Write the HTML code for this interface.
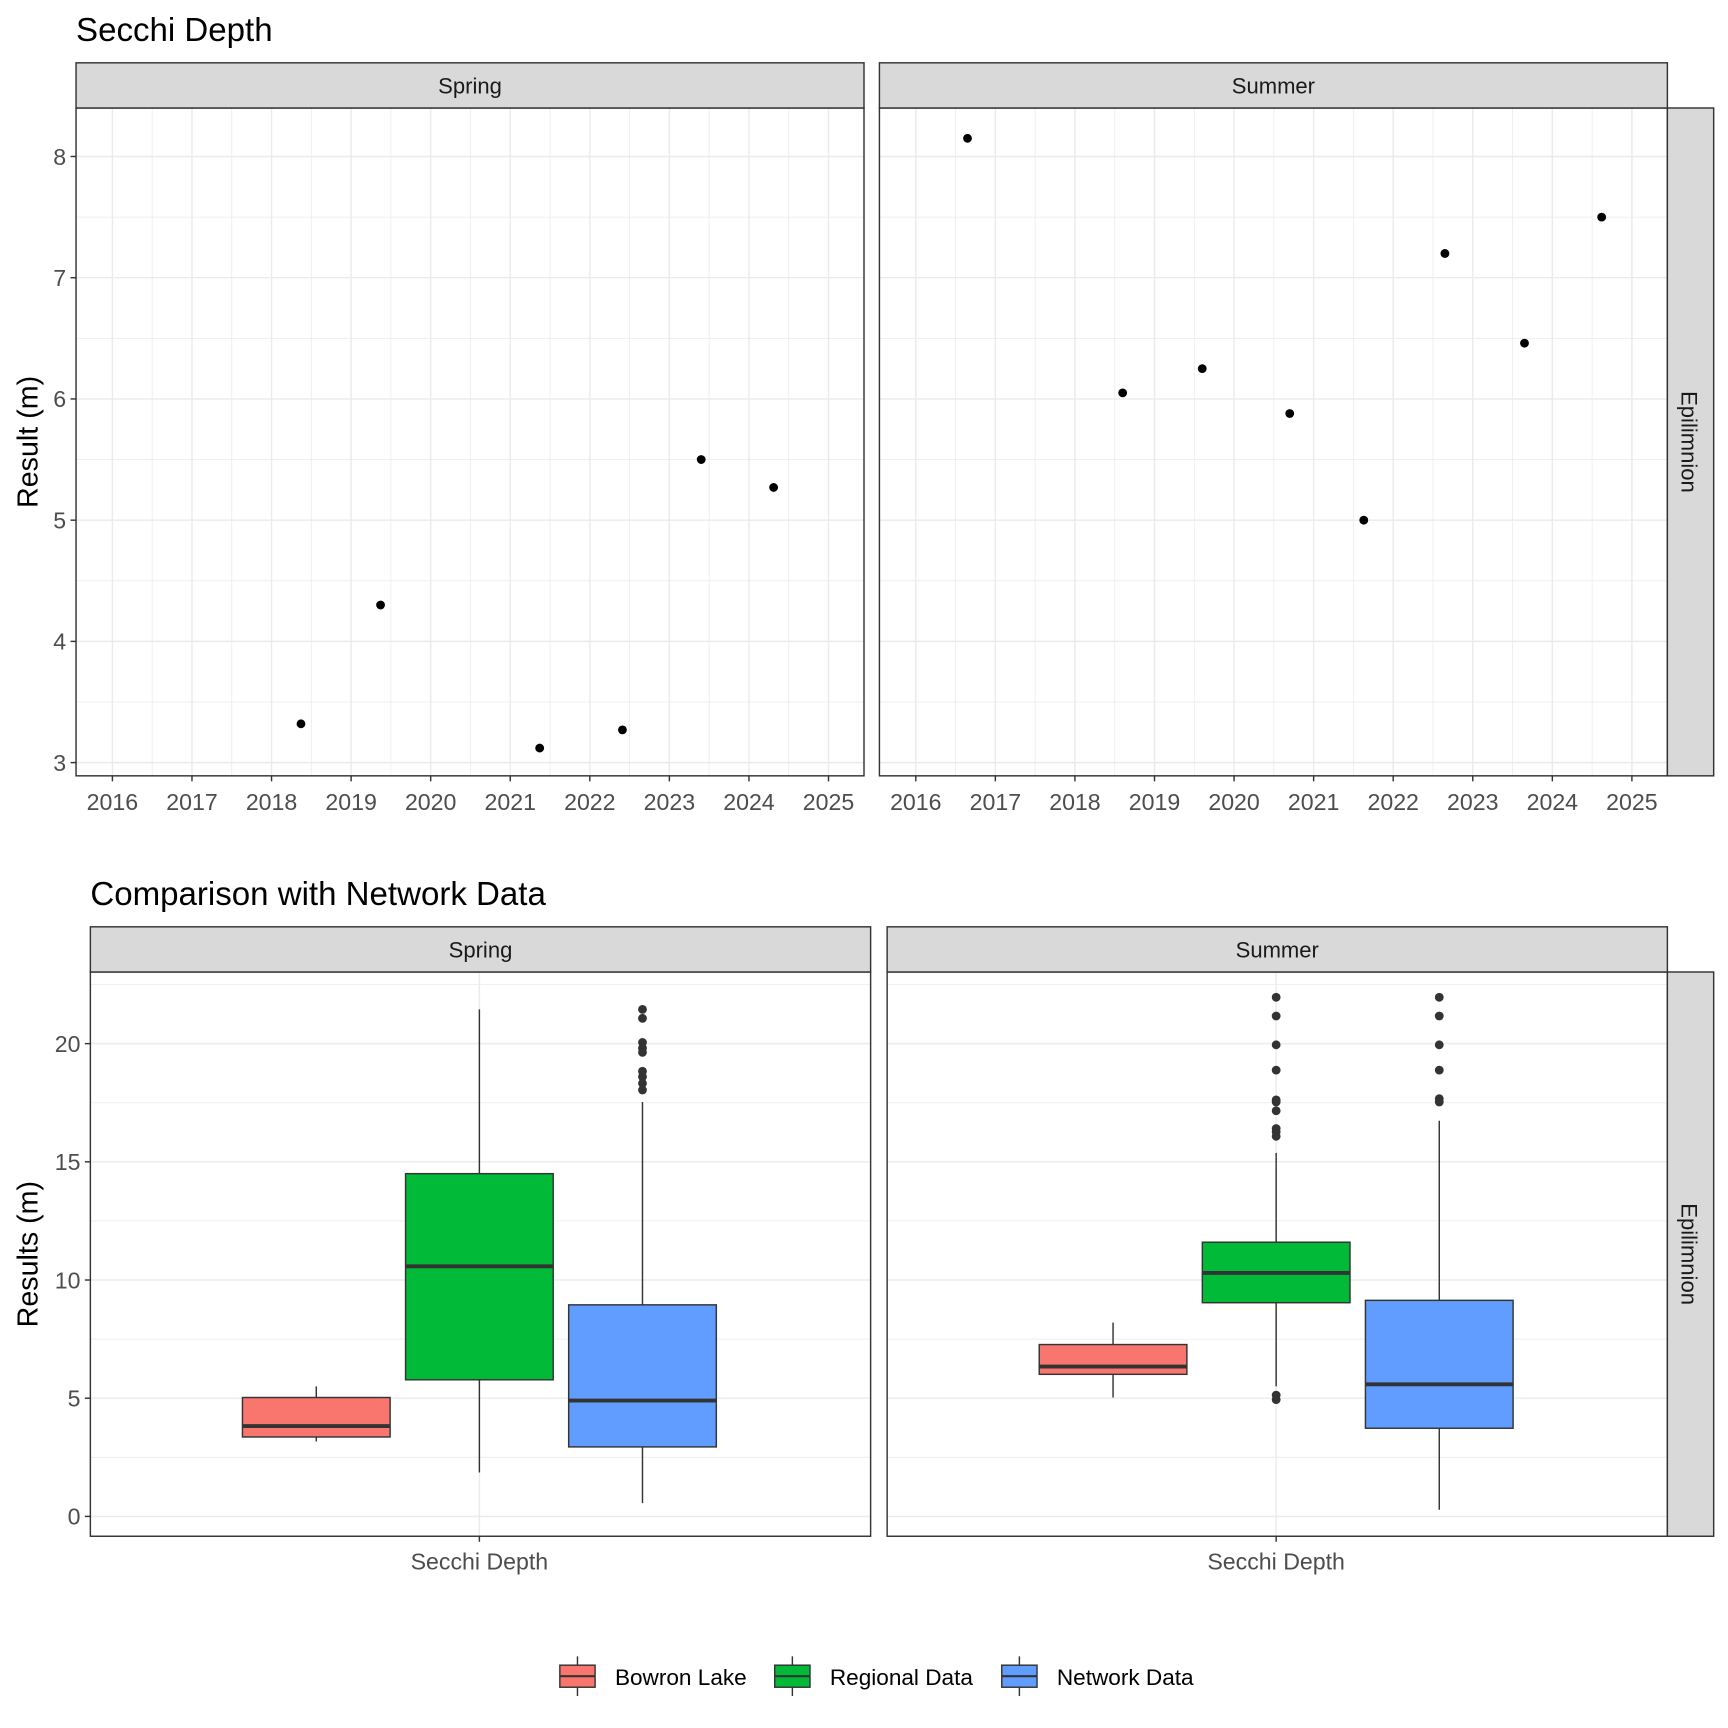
<!DOCTYPE html>
<html><head><meta charset="utf-8"><style>
html,body{margin:0;padding:0;background:#fff}
svg{display:block;font-family:"Liberation Sans",Arial,sans-serif}
</style></head><body>
<svg id="chart" width="1728" height="1728" viewBox="0 0 1568 1568" xmlns="http://www.w3.org/2000/svg"></svg>
<script>
// ---- Top chart data ----
const years = [2016,2017,2018,2019,2020,2021,2022,2023,2024,2025];
const yTicksTop = [3,4,5,6,7,8];
const springDates = [2018.37,2019.37,2021.37,2022.41,2023.40,2024.31];
const springValues = [3.32,4.30,3.12,3.27,5.50,5.27];
const summerDates = [2016.65,2018.60,2019.60,2020.70,2021.63,2022.65,2023.65,2024.62];
const summerValues = [8.15,6.05,6.25,5.88,5.00,7.20,6.46,7.50];
// ---- Bottom chart data ----
const groups = ["Bowron Lake","Regional Data","Network Data"];
const seasons = ["Spring","Summer"];
const yTicksBottom = [0,5,10,15,20];
// [lowWhisker, q1, median, q3, highWhisker]
const springStats = [[3.17,3.36,3.82,5.03,5.5],[1.86,5.78,10.58,14.5,21.45],[0.56,2.94,4.9,8.95,17.53]];
const summerStats = [[5.03,6.01,6.34,7.27,8.2],[5.5,9.04,10.3,11.6,15.38],[0.28,3.73,5.59,9.14,16.74]];
const springOutliers = [[],[],[21.45,21.07,20.05,19.81,19.63,18.83,18.6,18.32,18.04]];
const summerOutliers = [[],[21.96,21.17,19.95,18.88,17.62,17.53,17.16,16.41,16.27,16.08,5.13,4.94],[21.96,21.17,19.95,18.88,17.67,17.53]];
const groupColors = ["#F8766D","#00BA38","#619CFF"];

const NS="http://www.w3.org/2000/svg";
const svg=document.getElementById('chart');
const TICK=21, STRIP=20;
function mk(tag,attrs,parent,name,inter){const e=document.createElementNS(NS,tag);for(const k in attrs)e.setAttribute(k,attrs[k]);(parent||svg).appendChild(e);


return e;}
function txt(s,attrs,name){const e=mk('text',attrs,svg,name);e.textContent=s;return e;}

// Titles
txt("Secchi Depth",{x:69,y:37,'font-size':30,fill:'#000'},'top-title');
txt("Comparison with Network Data",{x:82,y:821,'font-size':30,fill:'#000'},'bottom-title');

// ---- Top panels ----
const topY0=98, topY1=704;
const yTop=v=>142+(8-v)*110;
const topPanels=[{x0:69,x1:784,name:'Spring',d:springDates,v:springValues,x16:102},{x0:798,x1:1513,name:'Summer',d:summerDates,v:summerValues,x16:831}];
topPanels.forEach((p,pi)=>{
  const xs=y=>p.x16+(y-2016)*72.2;
  const g=mk('g',{},svg,'top-panel-'+p.name.toLowerCase());
  mk('rect',{x:p.x0,y:topY0,width:p.x1-p.x0,height:topY1-topY0,fill:'#fff'},g,'panel-background');
  for(let t=2.5;t<=8.5;t+=0.5){const yy=yTop(t);if(yy<topY0||yy>topY1)continue;
    mk('line',{x1:p.x0,x2:p.x1,y1:yy,y2:yy,stroke:'#ebebeb','stroke-width':t%1===0?1.3:0.7},g,'y-gridline');}
  for(let t=2015.5;t<=2025.5;t+=0.5){const xx=xs(t);if(xx<p.x0||xx>p.x1)continue;
    mk('line',{x1:xx,x2:xx,y1:topY0,y2:topY1,stroke:'#ebebeb','stroke-width':t%1===0?1.3:0.7},g,'x-gridline');}
  p.d.forEach((d,i)=>{mk('circle',{cx:xs(d),cy:yTop(p.v[i]),r:4,fill:'#000'},g,'point-'+p.name.toLowerCase());});
  mk('rect',{x:p.x0,y:topY0,width:p.x1-p.x0,height:topY1-topY0,fill:'none',stroke:'#333','stroke-width':1.3},g,'panel-border');
  mk('rect',{x:p.x0,y:57,width:p.x1-p.x0,height:41,fill:'#d9d9d9',stroke:'#333','stroke-width':1.3},g,'strip-'+p.name.toLowerCase());
  txt(p.name,{x:(p.x0+p.x1)/2,y:85,'font-size':STRIP,fill:'#1a1a1a','text-anchor':'middle'},'strip-label');
  years.forEach(yr=>{const xx=xs(yr);
    mk('line',{x1:xx,x2:xx,y1:topY1,y2:topY1+5,stroke:'#333','stroke-width':1.3},g,'x-tick');
    txt(String(yr),{x:xx,y:735,'font-size':TICK,fill:'#4d4d4d','text-anchor':'middle'},'x-tick-label');});
  if(pi===0){yTicksTop.forEach(t=>{const yy=yTop(t);
    mk('line',{x1:p.x0-5,x2:p.x0,y1:yy,y2:yy,stroke:'#333','stroke-width':1.3},g,'y-tick');
    txt(String(t),{x:p.x0-9,y:yy+7.5,'font-size':TICK,fill:'#4d4d4d','text-anchor':'end'},'y-tick-label');});}
});
mk('rect',{x:1513,y:topY0,width:42,height:topY1-topY0,fill:'#d9d9d9',stroke:'#333','stroke-width':1.3},svg,'strip-epilimnion-top');
txt("Epilimnion",{x:0,y:0,'font-size':STRIP,fill:'#1a1a1a','text-anchor':'middle',transform:'translate(1526,401) rotate(90)'},'strip-label-epilimnion');
txt("Result (m)",{x:0,y:0,'font-size':26,fill:'#000','text-anchor':'middle',transform:'translate(34,401) rotate(-90)'},'y-axis-title-top');

// ---- Bottom panels ----
const botY0=882, botY1=1394;
const yBot=v=>1376-v*21.45;
const botPanels=[{x0:82,x1:790,cx:435,name:'Spring',s:springStats,o:springOutliers},{x0:805,x1:1513,cx:1158,name:'Summer',s:summerStats,o:summerOutliers}];
botPanels.forEach((p,pi)=>{
  const g=mk('g',{},svg,'bottom-panel-'+p.name.toLowerCase());
  mk('rect',{x:p.x0,y:botY0,width:p.x1-p.x0,height:botY1-botY0,fill:'#fff'},g,'panel-background');
  for(let t=0;t<=22.5;t+=2.5){const yy=yBot(t);
    mk('line',{x1:p.x0,x2:p.x1,y1:yy,y2:yy,stroke:'#ebebeb','stroke-width':t%5===0?1.3:0.7},g,'y-gridline');}
  mk('line',{x1:p.cx,x2:p.cx,y1:botY0,y2:botY1,stroke:'#ebebeb','stroke-width':1.3},g,'x-gridline');
  groups.forEach((gr,i)=>{
    const c=p.cx+(i-1)*148, w=134, st=p.s[i];
    const gg=mk('g',{},g,'box-'+gr.toLowerCase().replace(' ','-'));
    mk('line',{x1:c,x2:c,y1:yBot(st[4]),y2:yBot(st[0]),stroke:'#333','stroke-width':1.3},gg,'whisker');
    mk('rect',{x:c-w/2,y:yBot(st[3]),width:w,height:yBot(st[1])-yBot(st[3]),fill:groupColors[i],stroke:'#333','stroke-width':1.3},gg,'box');
    mk('line',{x1:c-w/2,x2:c+w/2,y1:yBot(st[2]),y2:yBot(st[2]),stroke:'#333','stroke-width':3.5},gg,'median-line');
    p.o[i].forEach(v=>mk('circle',{cx:c,cy:yBot(v),r:4,fill:'#333'},gg,'outlier'));
  });
  mk('rect',{x:p.x0,y:botY0,width:p.x1-p.x0,height:botY1-botY0,fill:'none',stroke:'#333','stroke-width':1.3},g,'panel-border');
  mk('rect',{x:p.x0,y:841,width:p.x1-p.x0,height:41,fill:'#d9d9d9',stroke:'#333','stroke-width':1.3},g,'strip-'+p.name.toLowerCase());
  txt(p.name,{x:(p.x0+p.x1)/2,y:869,'font-size':STRIP,fill:'#1a1a1a','text-anchor':'middle'},'strip-label');
  mk('line',{x1:p.cx,x2:p.cx,y1:botY1,y2:botY1+5,stroke:'#333','stroke-width':1.3},g,'x-tick');
  txt("Secchi Depth",{x:p.cx,y:1424,'font-size':TICK,fill:'#4d4d4d','text-anchor':'middle'},'x-tick-label');
  if(pi===0){yTicksBottom.forEach(t=>{const yy=yBot(t);
    mk('line',{x1:p.x0-5,x2:p.x0,y1:yy,y2:yy,stroke:'#333','stroke-width':1.3},g,'y-tick');
    txt(String(t),{x:p.x0-9,y:yy+7.5,'font-size':TICK,fill:'#4d4d4d','text-anchor':'end'},'y-tick-label');});}
});
mk('rect',{x:1513,y:botY0,width:42,height:botY1-botY0,fill:'#d9d9d9',stroke:'#333','stroke-width':1.3},svg,'strip-epilimnion-bottom');
txt("Epilimnion",{x:0,y:0,'font-size':STRIP,fill:'#1a1a1a','text-anchor':'middle',transform:'translate(1526,1138) rotate(90)'},'strip-label-epilimnion');
txt("Results (m)",{x:0,y:0,'font-size':26,fill:'#000','text-anchor':'middle',transform:'translate(34,1138) rotate(-90)'},'y-axis-title-bottom');

// ---- Legend ----
const legX=[508,703,909];
const leg=mk('g',{},svg,'legend');
groups.forEach((gr,i)=>{
  const x=legX[i];
  const e=mk('g',{},leg,'legend-entry',true);
  mk('line',{x1:x+16,x2:x+16,y1:1503,y2:1539,stroke:'#333','stroke-width':1.3},e,'legend-whisker');
  mk('rect',{x:x,y:1511,width:32,height:20,fill:groupColors[i],stroke:'#333','stroke-width':1.3},e,'legend-key');
  mk('line',{x1:x,x2:x+32,y1:1521,y2:1521,stroke:'#333','stroke-width':2},e,'legend-median');
  const t=mk('text',{x:x+50,y:1529,'font-size':20.5,fill:'#000'},e,'legend-label');t.textContent=gr;
});
</script>
</body></html>
